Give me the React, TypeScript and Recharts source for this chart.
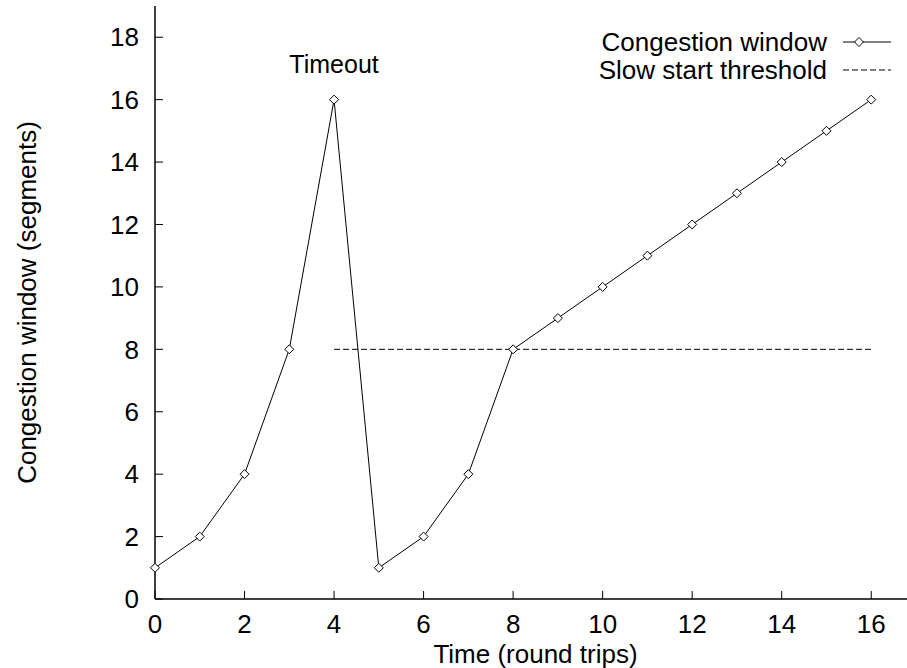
import {
  ComposedChart,
  Line,
  XAxis,
  YAxis,
  Legend,
  Label,
  ReferenceDot,
} from "recharts"

const rounds = [0, 1, 2, 3, 4, 5, 6, 7, 8, 9, 10, 11, 12, 13, 14, 15, 16]
const congestionWindow = [1, 2, 4, 8, 16, 1, 2, 4, 8, 9, 10, 11, 12, 13, 14, 15, 16]
const thresholdRounds = [4, 16]
const thresholdValues = [8, 8]
const xTicks = [0, 2, 4, 6, 8, 10, 12, 14, 16]
const yTicks = [0, 2, 4, 6, 8, 10, 12, 14, 16, 18]

const cwndData = rounds.map((t, i) => ({ t, cwnd: congestionWindow[i] }))
const threshData = thresholdRounds.map((t, i) => ({ t, ssthresh: thresholdValues[i] }))

const FONT = "'Liberation Sans', Arial, Helvetica, sans-serif"
const FS = 26

function Diamond(props: any) {
  const { cx, cy } = props
  if (cx == null || cy == null) return null
  const r = 4.5
  return (
    <path
      d={`M${cx},${cy - r} L${cx + r},${cy} L${cx},${cy + r} L${cx - r},${cy} Z`}
      fill="#fff"
      stroke="#000"
      strokeWidth={1}
    />
  )
}

function KeyBox(props: any) {
  const entries = props.payload || []
  return (
    <svg width={907} height={90} style={{ display: "block" }}>
      {entries.map((e: any, i: number) => {
        const y = 42 + i * 28
        const dashed = e.payload && e.payload.strokeDasharray
        return (
          <g key={e.value}>
            <text
              x={827}
              y={y}
              dy="0.35em"
              textAnchor="end"
              fontSize={FS}
              fontFamily={FONT}
              fill="#000"
            >
              {e.value}
            </text>
            <line
              x1={843}
              x2={891}
              y1={y}
              y2={y}
              stroke="#000"
              strokeWidth={1}
              strokeDasharray={dashed ? "6 3" : undefined}
            />
            {!dashed && <Diamond cx={859} cy={y} />}
          </g>
        )
      })}
    </svg>
  )
}

export default function App() {
  return (
    <div
      style={{
        position: "absolute",
        left: 0,
        top: 0,
        width: 907,
        height: 668,
        overflow: "hidden",
        background: "#fff",
        fontFamily: FONT,
      }}
    >
      <ComposedChart
        width={930}
        height={668}
        margin={{ top: 6, right: 14, bottom: 0, left: 0 }}
      >
        <XAxis
          xAxisId="bottom"
          type="number"
          dataKey="t"
          domain={[0, 17]}
          ticks={xTicks}
          interval={0}
          height={69}
          axisLine={{ stroke: "#000", strokeWidth: 1.5 }}
          tickLine={{ stroke: "#000" }}
          tickSize={-8}
          tickMargin={24}
          tick={{ fill: "#000", fontSize: FS }}
        >
          <Label
            value="Time (round trips)"
            position="insideBottom"
            offset={5}
            fill="#000"
            fontSize={FS}
          />
        </XAxis>
        <XAxis
          xAxisId="top"
          orientation="top"
          type="number"
          dataKey="t"
          domain={[0, 17]}
          ticks={xTicks}
          interval={0}
          height={0}
          axisLine={{ stroke: "#000", strokeWidth: 1.5 }}
          tickLine={{ stroke: "#000" }}
          tickSize={-8}
          tick={false}
        />
        <YAxis
          type="number"
          domain={[0, 19]}
          ticks={yTicks}
          interval={0}
          width={155}
          axisLine={{ stroke: "#000", strokeWidth: 1.5 }}
          tickLine={{ stroke: "#000" }}
          tickSize={-8}
          tickMargin={24}
          tick={{ fill: "#000", fontSize: FS }}
        >
          <Label
            content={(p: any) => {
              const vb = p.viewBox || { y: 6, height: 593 }
              const cy = vb.y + vb.height / 2
              return (
                <text
                  transform={`translate(27,${cy}) rotate(-90)`}
                  textAnchor="middle"
                  dy="0.35em"
                  fontSize={FS}
                  fontFamily={FONT}
                  fill="#000"
                >
                  Congestion window (segments)
                </text>
              )
            }}
          />
        </YAxis>
        <Legend
          layout="vertical"
          align="center"
          verticalAlign="middle"
          wrapperStyle={{ top: 0, left: 0, width: 907, height: 90 }}
          content={<KeyBox />}
        />
        <Line
          xAxisId="bottom"
          data={cwndData}
          dataKey="cwnd"
          name="Congestion window"
          stroke="#000"
          strokeWidth={1}
          dot={<Diamond />}
          activeDot={false}
          isAnimationActive={false}
        />
        <Line
          xAxisId="bottom"
          data={threshData}
          dataKey="ssthresh"
          name="Slow start threshold"
          stroke="#000"
          strokeWidth={1}
          strokeDasharray="6 3"
          dot={false}
          activeDot={false}
          isAnimationActive={false}
        />
        <ReferenceDot
          xAxisId="bottom"
          x={4}
          y={16}
          r={0}
          fill="none"
          stroke="none"
          label={{
            value: "Timeout",
            position: "top",
            offset: 27,
            fill: "#000",
            fontSize: 25,
          }}
        />
      </ComposedChart>
    </div>
  )
}
